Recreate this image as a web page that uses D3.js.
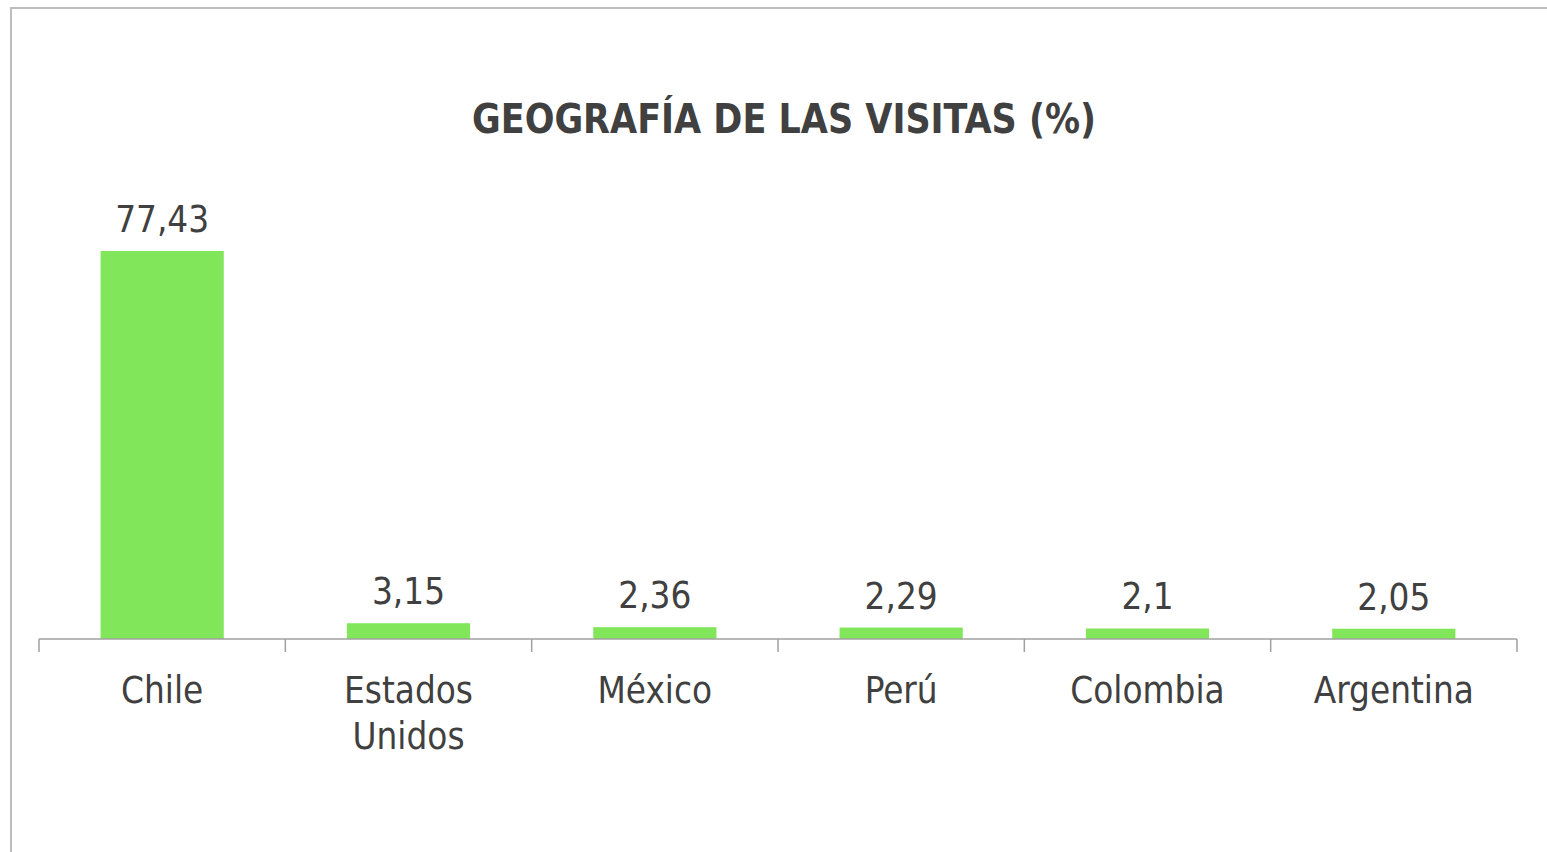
<!DOCTYPE html>
<html>
<head>
<meta charset="utf-8">
<script src="https://cdn.jsdelivr.net/npm/d3@7"></script>
<style>
    body { margin: 0; background: #fff; }
    svg { display: block; }
</style>
</head>
<body>
<div id="chart"></div>
<script>
// data
const countries = ["Chile", "Estados Unidos", "México", "Perú", "Colombia", "Argentina"];
const visits = [77.43, 3.15, 2.36, 2.29, 2.1, 2.05];
const valueLabels = ["77,43", "3,15", "2,36", "2,29", "2,1", "2,05"];
const titleText = "GEOGRAFÍA DE LAS VISITAS (%)";

const width = 1547, height = 852;
const textColor = "#404040";
const font = "'DejaVu Sans Condensed', 'DejaVu Sans', sans-serif";

const svg = d3.select("#chart").append("svg")
    .attr("width", width)
    .attr("height", height);

// outer frame (top + left edges visible)
svg.append("path")
    .attr("d", "M11,852 V8 H1547")
    .attr("fill", "none")
    .attr("stroke", "#bdbdbd")
    .attr("stroke-width", 2);

const x = d3.scaleBand()
    .domain(countries)
    .range([39, 1517])
    .paddingInner(0.5)
    .paddingOuter(0.25);

const y = d3.scaleLinear()
    .domain([0, 90])
    .range([639, 188]);

const title = svg.append("text")
    .attr("x", 784)
    .attr("y", 133)
    .attr("text-anchor", "middle")
    .attr("font-family", font)
    .attr("font-weight", "bold")
    .attr("font-size", 40)
    .attr("fill", textColor)
    .text(titleText);
title.attr("textLength", 624).attr("lengthAdjust", "spacingAndGlyphs");

svg.selectAll(".bar")
    .data(visits)
    .join("rect")
    .attr("class", "bar")
    .attr("x", (d, i) => x(countries[i]))
    .attr("y", d => y(d))
    .attr("width", x.bandwidth())
    .attr("height", d => y(0) - y(d))
    .attr("fill", "#82e65a");

svg.selectAll(".value")
    .data(visits)
    .join("text")
    .attr("class", "value")
    .attr("x", (d, i) => x(countries[i]) + x.bandwidth() / 2)
    .attr("y", d => y(d) - 19)
    .attr("text-anchor", "middle")
    .attr("font-family", font)
    .attr("font-size", 36.5)
    .attr("fill", textColor)
    .text((d, i) => valueLabels[i]);

// category axis
const step = x.step();
const axis = svg.append("g")
    .attr("transform", `translate(0,${y(0)})`)
    .call(d3.axisBottom(x).tickSize(0).tickFormat(""));
axis.select(".domain").attr("stroke", "#a0a0a0").attr("stroke-width", 1.5)
    .attr("d", `M39,0H1517`);

const edges = d3.range(countries.length + 1).map(i => 39 + i * step);
axis.selectAll(".edge")
    .data(edges)
    .join("line")
    .attr("class", "edge")
    .attr("x1", d => d).attr("x2", d => d)
    .attr("y1", 0).attr("y2", 13)
    .attr("stroke", "#a0a0a0")
    .attr("stroke-width", 1.5);

svg.selectAll(".cat")
    .data(countries)
    .join("text")
    .attr("class", "cat")
    .attr("x", d => x(d) + x.bandwidth() / 2)
    .attr("y", 703)
    .attr("text-anchor", "middle")
    .attr("font-family", font)
    .attr("font-size", 36.5)
    .attr("fill", textColor)
    .each(function (d) {
        const words = d === "Estados Unidos" ? ["Estados", "Unidos"] : [d];
        d3.select(this).selectAll("tspan")
            .data(words)
            .join("tspan")
            .attr("x", x(d) + x.bandwidth() / 2)
            .attr("dy", (w, j) => j === 0 ? 0 : 46)
            .text(w => w);
    });
</script>
</body>
</html>
